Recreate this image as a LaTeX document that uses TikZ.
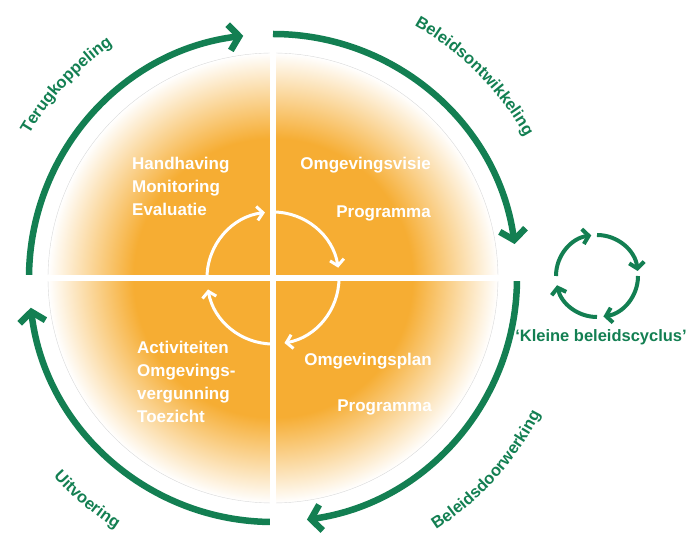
\documentclass[tikz,border=0pt]{standalone}
\usepackage{fontspec}
\setmainfont{Liberation Sans}
\usetikzlibrary{arrows.meta,decorations.text}

\definecolor{cycleorange}{RGB}{246,173,51}
\definecolor{cyclegreen}{RGB}{19,127,82}
\pgfdeclareradialshading{discfade}{\pgfpoint{0bp}{0bp}}{color(0bp)=(cycleorange); color(15.5bp)=(cycleorange); color(25bp)=(white); color(50bp)=(white)}

\newcommand\quadfont{\bfseries\fontsize{17}{23}\selectfont}
\newcommand\ringfont{\bfseries\fontsize{16.5}{20}\selectfont}

\tikzset{
  bigloop/.style={draw=cyclegreen, line width=6.5pt, -{Straight Barb[length=10pt,width=26pt]}},
  innerloop/.style={draw=white, line width=3pt, -{Straight Barb[length=6pt,width=14pt]}},
  smallloop/.style={draw=cyclegreen, line width=4pt, -{Straight Barb[length=6pt,width=15pt]}},
  divider/.style={draw=white, line width=6.5pt},
  quadtext/.style={text=white, font=\quadfont, inner sep=0pt},
  ringtext/.style={decorate, decoration={text along path, text align=center, text color=cyclegreen, text={|\ringfont|#1}}}
}

\begin{document}
\begin{tikzpicture}[x=1pt,y=1pt]
\useasboundingbox (0,0) rectangle (686,535);
\coordinate (C) at (273,257);
\coordinate (K) at (597,259);

\shade[shading=discfade] (C) circle (225);
\draw[gray!30, line width=0.4pt] (C) circle (225);

\foreach \s/\e in {180/97, 90/8, 0/-82, 270/187}
  \draw[bigloop] (C) ++(\s:244) arc[start angle=\s, end angle=\e, radius=244];

\draw[divider] (C) ++(0,240) -- ++(0,-497);
\draw[divider] (C) ++(-248,0) -- ++(501,0);

\foreach \s/\e in {180/97, 90/9, 0/-80, 270/190}
  \draw[innerloop] (C) ++(\s:66) arc[start angle=\s, end angle=\e, radius=66];

\foreach \s/\e in {180/98, 90/7, 0/-81, 270/193}
  \draw[smallloop] (K) ++(\s:41) arc[start angle=\s, end angle=\e, radius=41];

\node[quadtext, anchor=north west, align=left] (Q1) at (132,378) {Handhaving\\Monitoring\\Evaluatie};
\node[quadtext, anchor=north east, align=right] (Q2) at (431,378) {Omgevingsvisie\\[25pt]Programma};
\node[quadtext, anchor=north west, align=left] (Q3) at (137,194) {Activiteiten\\Omgevings-\\vergunning\\Toezicht};
\node[quadtext, anchor=north east, align=right] (Q4) at (432,182) {Omgevingsplan\\[23pt]Programma};

\node[font=\ringfont, text=cyclegreen, anchor=base] (small) at (601,193) {‘Kleine beleidscyclus’};

\path[ringtext=Terugkoppeling] (C) ++(167:283) arc[start angle=167, end angle=107, radius=283];
\path[ringtext=Beleidsontwikkeling] (C) ++(80:289) arc[start angle=80, end angle=10, radius=289];
\path[ringtext=Beleidsdoorwerking] (C) ++(-77:300) arc[start angle=-77, end angle=-7, radius=300];
\path[ringtext=Uitvoering] (C) ++(-160:296) arc[start angle=-160, end angle=-100, radius=296];
\end{tikzpicture}
\end{document}
